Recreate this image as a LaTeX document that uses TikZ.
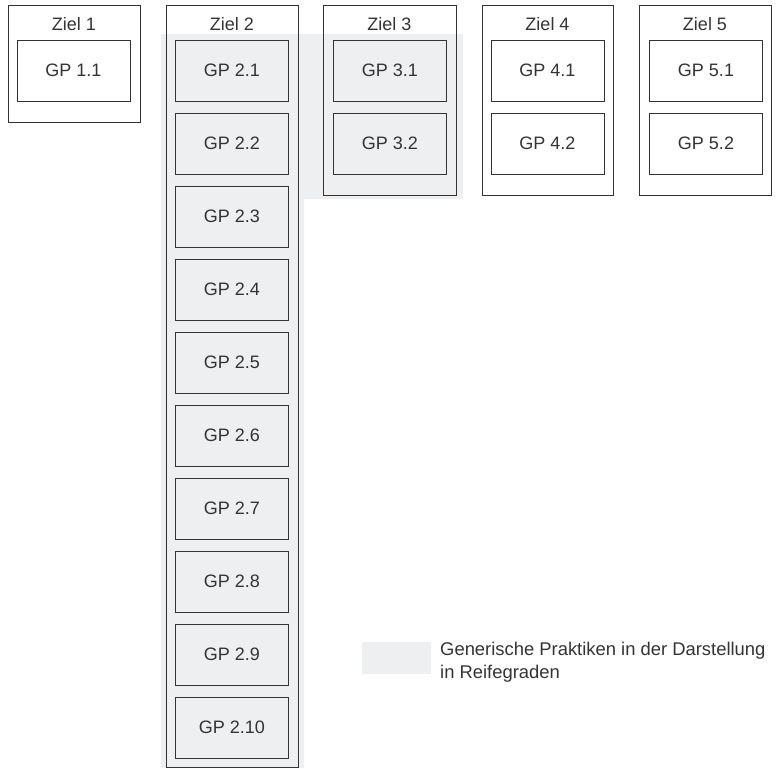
\documentclass[tikz,border=0pt]{standalone}
\usepackage{fontspec}
\setmainfont{Liberation Sans}
\definecolor{ink}{HTML}{333333}
\definecolor{gpgray}{HTML}{EEEFF1}
\begin{document}
\begin{tikzpicture}[x=1pt,y=-1pt,
  zielbox/.style={draw=ink,line width=0.9pt,inner sep=0pt,outer sep=0pt},
  gpbox/.style={draw=ink,line width=0.9pt,inner sep=0pt,outer sep=0pt,minimum width=113pt,minimum height=61pt,font=\fontsize{18}{20}\selectfont,text=ink},
  title/.style={inner sep=0pt,font=\fontsize{18}{20}\selectfont,text=ink},
  legend/.style={inner sep=0pt,font=\fontsize{18.4}{22.5}\selectfont,text=ink,align=left}]
\useasboundingbox (0,0) rectangle (782,769);
% shaded maturity-level region
\fill[gpgray] (161,34) -- (463,34) -- (463,199) -- (304,199) -- (304,768) -- (161,768) -- cycle;
% goal boxes
\node[zielbox,minimum width=132pt,minimum height=117pt] (z1) at (74,63.5) {};
\node[zielbox,minimum width=132pt,minimum height=762pt] (z2) at (232,386) {};
\node[zielbox,minimum width=133pt,minimum height=190pt] (z3) at (389.5,100) {};
\node[zielbox,minimum width=131pt,minimum height=190pt] (z4) at (547.5,100) {};
\node[zielbox,minimum width=132pt,minimum height=190pt] (z5) at (705,100) {};
\node[title] (t1) at (74,24) {Ziel 1};
\node[title] (t2) at (232,24) {Ziel 2};
\node[title] (t3) at (389.5,24) {Ziel 3};
\node[title] (t4) at (547.5,24) {Ziel 4};
\node[title] (t5) at (705,24) {Ziel 5};
% practices
\node[gpbox] (g11) at (73.5,70.5) {GP 1.1};
\foreach \k in {1,...,10}{
  \node[gpbox] (g2\k) at (232,{70.5+73*(\k-1)}) {GP 2.\k};
}
\node[gpbox] (g31) at (390,70.5) {GP 3.1};
\node[gpbox] (g32) at (390,143.5) {GP 3.2};
\node[gpbox] (g41) at (547.5,70.5) {GP 4.1};
\node[gpbox] (g42) at (547.5,143.5) {GP 4.2};
\node[gpbox] (g51) at (706,70.5) {GP 5.1};
\node[gpbox] (g52) at (706,143.5) {GP 5.2};
% legend
\node[fill=gpgray,minimum width=69pt,minimum height=32pt,inner sep=0pt] (lg) at (396.5,658) {};
\node[legend,anchor=north west] (lt) at (440,642) {Generische Praktiken in der Darstellung\\in Reifegraden};
\end{tikzpicture}
\end{document}
